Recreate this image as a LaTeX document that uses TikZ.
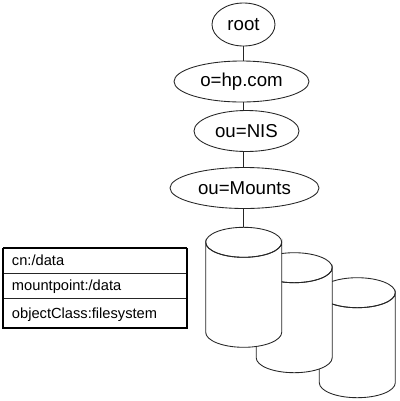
\documentclass[tikz,border=0pt]{standalone}
\usepackage{fontspec}
\setmainfont{Liberation Sans}
\usetikzlibrary{shapes.geometric}
\tikzset{
  entry/.style={draw=black!85,line width=0.65pt,fill=white,ellipse,inner sep=0pt,font=\fontsize{14}{16}\selectfont},
  link/.style={draw=black!85,line width=0.65pt},
  disk/.style={draw=black!85,line width=0.65pt,fill=white},
  rowbox/.style={draw=black!85,line width=0.65pt,rectangle,outer sep=0pt,minimum height=18.75pt,text width=124.5pt,inner xsep=6.75pt,inner ysep=0pt,align=left,text height=9.5pt,text depth=1.5pt,font=\fontsize{11}{13}\selectfont},
  frame/.style={draw=black,line width=1.2pt}
}
\begin{document}
\begin{tikzpicture}[x=0.75pt,y=-0.75pt]
\useasboundingbox (0,0) rectangle (400,401);
\fill[white] (0,0) rectangle (400,401);
% disks, back to front
\foreach \cx/\ty in {357.3/292.7,294.2/267.7,243.7/242.3}{
  \path[disk] (\cx-38,\ty) -- (\cx-38,\ty+90) arc[start angle=180,end angle=360,x radius=38,y radius=-15] -- (\cx+38,\ty) arc[start angle=0,end angle=-180,x radius=38,y radius=-15] -- cycle;
  \draw[disk,fill=none] (\cx-38,\ty) arc[start angle=180,end angle=360,x radius=38,y radius=15];
  \draw[disk,fill=none] (\cx-38,\ty) arc[start angle=180,end angle=360,x radius=38,y radius=-15];
}
\coordinate (disktop) at (243.5,227.3);
% entries
\node[entry,minimum width=47.25pt,minimum height=32.25pt] (root) at (243.5,24.5) {root};
\node[entry,minimum width=101.25pt,minimum height=30.75pt] (org) at (241.5,81.5) {o=hp.com};
\node[entry,minimum width=78.75pt,minimum height=30.75pt] (nis) at (246.5,131) {ou=NIS};
\node[entry,minimum width=111.75pt,minimum height=30.75pt] (mounts) at (244.5,188) {ou=Mounts};
\path[link] (root.south) -- (root.south |- org.north);
\path[link] (root.south |- org.south) -- (root.south |- nis.north);
\path[link] (root.south |- nis.south) -- (root.south |- mounts.north);
\path[link] (root.south |- mounts.south) -- (disktop);
% attribute table
\node[rowbox,anchor=north west] (rowa) at (3,248) {cn:/data};
\node[rowbox,anchor=north west] (rowb) at (rowa.south west) {mountpoint:/data};
\node[rowbox,anchor=north west,minimum height=22.5pt] (rowc) at (rowb.south west) {objectClass:filesystem};
\draw[frame] (rowa.north west) -- (rowc.south west) -- (rowc.south east) -- (rowa.north east);
\draw[draw=black,line width=0.8pt] (rowa.north west) -- (rowa.north east);
\end{tikzpicture}
\end{document}
